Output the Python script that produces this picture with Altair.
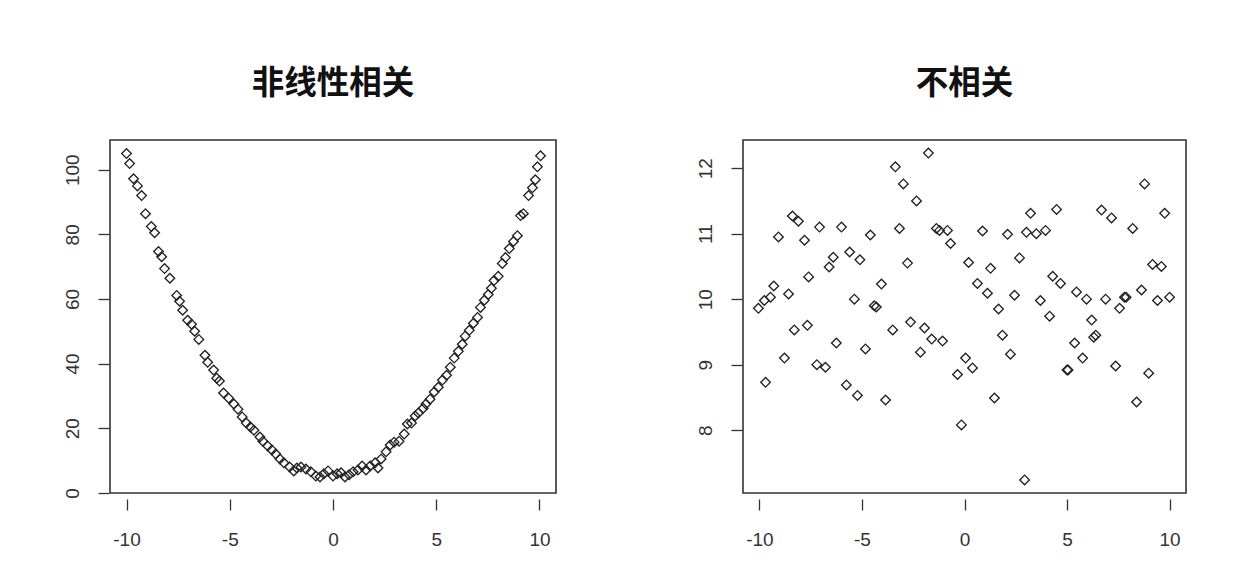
import altair as alt
import pandas as pd

# ---- data ----
nl_x = [-10.0, -9.85, -9.66, -9.47, -9.27, -9.08, -8.8, -8.64, -8.45, -8.3, -8.16, -7.9, -7.57, -7.43,
        -7.28, -7.04, -6.85, -6.7, -6.5, -6.2, -6.07, -5.78, -5.63, -5.5, -5.3, -5.05, -4.8, -4.6, -4.4,
        -4.2, -4.0, -3.83, -3.54, -3.4, -3.16, -2.96, -2.77, -2.57, -2.38, -2.1, -1.9, -1.75, -1.55,
        -1.31, -1.07, -0.83, -0.63, -0.44, -0.24, 0.0, 0.2, 0.39, 0.58, 0.78, 0.97, 1.21, 1.41, 1.6,
        1.8, 2.04, 2.18, 2.33, 2.57, 2.77, 2.96, 3.2, 3.45, 3.6, 3.8, 3.98, 4.13, 4.37, 4.5, 4.7, 4.9,
        5.1, 5.3, 5.5, 5.68, 5.87, 6.07, 6.26, 6.4, 6.6, 6.8, 7.0, 7.14, 7.33, 7.52, 7.67, 7.8, 8.0,
        8.2, 8.35, 8.54, 8.74, 8.93, 9.08, 9.22, 9.47, 9.66, 9.8, 9.9, 10.05]
nl_y = [105.0, 101.9, 97.2, 95.0, 92.0, 86.4, 82.4, 80.5, 74.7, 73.1, 69.4, 66.4, 61.1, 59.3,
        56.5, 53.4, 52.2, 50.0, 47.5, 42.6, 40.4, 38.0, 35.5, 34.6, 30.9, 29.3, 27.5, 25.9, 23.5,
        21.6, 20.4, 19.4, 17.3, 16.0, 14.5, 13.3, 12.0, 10.5, 9.3, 8.0, 6.8, 7.7, 8.0,
        7.4, 6.5, 5.2, 4.9, 5.9, 6.8, 5.2, 5.9, 6.2, 4.9, 5.6, 6.5, 7.1, 8.3, 7.1,
        8.3, 9.3, 7.7, 10.5, 12.7, 14.8, 15.7, 16.0, 18.2, 21.3, 21.6, 23.8, 24.7, 26.2, 27.5, 29.0, 31.2,
        32.7, 34.9, 36.4, 38.9, 41.7, 43.8, 46.0, 48.5, 50.3, 52.5, 54.3, 57.4, 59.6, 61.4, 63.3, 65.7, 67.0,
        71.0, 72.8, 75.6, 77.8, 79.6, 85.8, 86.4, 92.0, 94.4, 96.9, 100.9, 104.3]

nc_x = [-10.05, -9.76, -9.46, -9.3, -9.7, -9.07, -8.78, -8.58, -8.39, -8.1, -8.3, -7.8, -7.66, -7.6,
        -7.2, -7.07, -6.78, -6.6, -6.4, -6.25, -6.0, -5.76, -5.6, -5.37, -5.22, -5.1, -4.83, -4.59,
        -4.4, -4.3, -4.05, -3.85, -3.5, -3.37, -3.17, -2.98, -2.78, -2.63, -2.34, -2.15, -1.95, -1.76,
        -1.6, -1.37, -1.22, -1.07, -0.83, -0.68, -0.34, -0.15, 0.05, 0.2, 0.39, 0.63, 0.88, 1.12, 1.27,
        1.46, 1.66, 1.85, 2.1, 2.24, 2.44, 2.68, 2.93, 3.02, 3.22, 3.5, 3.7, 3.95, 4.15, 4.3, 4.49, 4.68,
        5.0, 5.05, 5.37, 5.46, 5.76, 5.95, 6.2, 6.3, 6.4, 6.68, 6.88, 7.17, 7.37, 7.56, 7.8, 7.88, 8.2,
        8.39, 8.63, 8.78, 8.98, 9.17, 9.41, 9.6, 9.76, 10.0]
nc_y = [9.86, 9.98, 10.03, 10.2, 8.73, 10.95, 9.1, 10.08, 11.27, 11.19, 9.53, 10.9, 9.6, 10.34,
        9.0, 11.1, 8.96, 10.49, 10.64, 9.33, 11.1, 8.69, 10.72, 10.0, 8.53, 10.6, 9.24, 10.98,
        9.9, 9.88, 10.23, 8.46, 9.53, 12.02, 11.08, 11.76, 10.55, 9.65, 11.5, 9.19, 9.56, 12.23,
        9.39, 11.08, 11.05, 9.36, 11.05, 10.85, 8.85, 8.08, 9.1, 10.56, 8.95, 10.24, 11.04, 10.09, 10.47,
        8.49, 9.85, 9.45, 10.99, 9.16, 10.06, 10.63, 7.24, 11.02, 11.31, 11.0, 9.98, 11.05, 9.74, 10.35, 11.37, 10.24,
        8.92, 8.92, 9.33, 10.11, 9.1, 10.0, 9.68, 9.42, 9.45, 11.36, 10.0, 11.24, 8.98, 9.86, 10.03, 10.03, 11.08,
        8.43, 10.14, 11.76, 8.87, 10.53, 9.98, 10.5, 11.31, 10.03]

x_ticks = [-10, -5, 0, 5, 10]
nl_y_ticks = [0, 20, 40, 60, 80, 100]
nc_y_ticks = [8, 9, 10, 11, 12]

left_df = pd.DataFrame({"x": nl_x, "y": nl_y})
right_df = pd.DataFrame({"x": nc_x, "y": nc_y})

LABEL_FONT = "Liberation Sans"
TITLE_FONT = "Noto Sans CJK SC"
LABEL_EXPR = "'' + datum.value"


def panel(df, title, ydom, yticks, w):
    xaxis = alt.Axis(values=x_ticks, title=None, grid=False, domain=False, ticks=True,
                     tickSize=11, tickColor="#333", tickWidth=1.3, offset=6,
                     labelFont=LABEL_FONT, labelFontSize=19, labelColor="#333",
                     labelPadding=20, labelExpr=LABEL_EXPR)
    yaxis = alt.Axis(values=yticks, title=None, grid=False, domain=False, ticks=True,
                     tickSize=11, tickColor="#333", tickWidth=1.3, offset=1,
                     labelFont=LABEL_FONT, labelFontSize=19, labelColor="#333",
                     labelAngle=-90, labelAlign="center", labelBaseline="bottom",
                     labelPadding=16, minExtent=100, labelExpr=LABEL_EXPR)
    return alt.Chart(df).mark_point(shape="diamond", filled=False, size=92,
                                    stroke="#222", strokeWidth=1.35, opacity=1).encode(
        x=alt.X("x:Q", scale=alt.Scale(domain=[-10.8, 10.8], nice=False, zero=False), axis=xaxis),
        y=alt.Y("y:Q", scale=alt.Scale(domain=ydom, nice=False, zero=False), axis=yaxis),
    ).properties(
        width=w, height=353,
        title=alt.TitleParams(title, font=TITLE_FONT, fontSize=32.5, fontWeight="bold",
                              color="#111", offset=40, anchor="middle"),
    )


left = panel(left_df, "非线性相关", [-0.04, 109.2], nl_y_ticks, 446)
right = panel(right_df, "不相关", [7.04, 12.43], nc_y_ticks, 443)

chart = alt.hconcat(left, right, spacing=84).properties(
    padding={"left": 0, "top": 58, "right": 5, "bottom": 5},
    background="white",
).configure_view(stroke="#333", strokeWidth=1.6)

chart.save("out.html", embed_options={"renderer": "svg", "actions": False})
